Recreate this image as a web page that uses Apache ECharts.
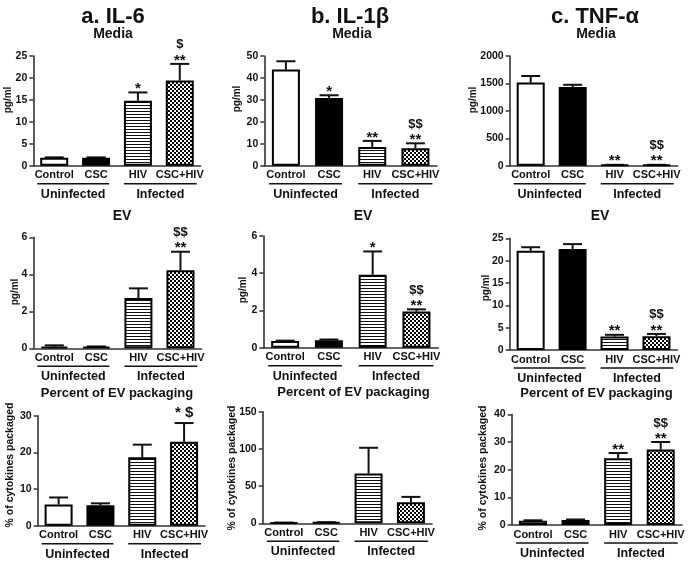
<!DOCTYPE html>
<html><head><meta charset="utf-8">
<script src="https://cdn.jsdelivr.net/npm/echarts@6/dist/echarts.min.js"></script>
<style>html,body{margin:0;padding:0;background:#fff}#c{width:688px;height:561px}</style>
</head><body><div id="c"></div>
<script>
// ---------------- data ----------------
const categories = ['Control', 'CSC', 'HIV', 'CSC+HIV'];
const groupLabels = ['Uninfected', 'Infected'];
const groupStarts = [0, 2];

const il6MediaValues = [1.8, 1.8, 14.8, 19.4];
const il6MediaErrors = [0.1, 0.1, 1.9, 3.8];
const il6MediaStars = ['', '', '*', '**'];
const il6MediaDollars = ['', '', '', '$'];
const il6MediaTicks = [0, 5, 10, 15, 20, 25];

const il1bMediaValues = [43.8, 30.9, 8.5, 8.0];
const il1bMediaErrors = [3.8, 1.2, 2.8, 2.2];
const il1bMediaStars = ['', '*', '**', '**'];
const il1bMediaDollars = ['', '', '', '$$'];
const il1bMediaTicks = [0, 10, 20, 30, 40, 50];

const tnfMediaValues = [1515, 1435, 12, 12];
const tnfMediaErrors = [120, 40, 4, 4];
const tnfMediaStars = ['', '', '**', '**'];
const tnfMediaDollars = ['', '', '', '$$'];
const tnfMediaTicks = [0, 500, 1000, 1500, 2000];

const il6EvValues = [0.1, 0.08, 2.72, 4.22];
const il6EvErrors = [0.06, 0.02, 0.52, 1.0];
const il6EvStars = ['', '', '', '**'];
const il6EvDollars = ['', '', '', '$$'];
const il6EvTicks = [0, 2, 4, 6];

const il1bEvValues = [0.36, 0.4, 3.92, 1.94];
const il1bEvErrors = [0.02, 0.04, 1.25, 0.12];
const il1bEvStars = ['', '', '*', '**'];
const il1bEvDollars = ['', '', '', '$$'];
const il1bEvTicks = [0, 2, 4, 6];

const tnfEvValues = [22.2, 22.6, 3.0, 3.1];
const tnfEvErrors = [0.8, 1.1, 0.4, 0.5];
const tnfEvStars = ['', '', '**', '**'];
const tnfEvDollars = ['', '', '', '$$'];
const tnfEvTicks = [0, 5, 10, 15, 20, 25];

const il6PctValues = [5.8, 5.6, 18.7, 22.9];
const il6PctErrors = [1.9, 0.5, 3.4, 5.1];
const il6PctStars = ['', '', '', '* $'];
const il6PctDollars = ['', '', '', ''];
const il6PctTicks = [0, 10, 20, 30];

const il1bPctValues = [0.8, 1.2, 67, 28.3];
const il1bPctErrors = [0.2, 0.3, 34.5, 7.2];
const il1bPctStars = ['', '', '', ''];
const il1bPctDollars = ['', '', '', ''];
const il1bPctTicks = [0, 50, 100, 150];

const tnfPctValues = [1.5, 1.8, 24.1, 27.3];
const tnfPctErrors = [0.2, 0.2, 1.9, 2.7];
const tnfPctStars = ['', '', '**', '**'];
const tnfPctDollars = ['', '', '', '$$'];
const tnfPctTicks = [0, 10, 20, 30, 40];

const panelTitles = ['a. IL-6', 'b. IL-1\u03B2', 'c. TNF-\u03B1'];
const rowTitles = ['Media', 'EV', 'Percent of EV packaging'];
const yNames = ['pg/ml', 'pg/ml', '% of cytokines packaged'];

// ---------------- build ----------------
const panels = [
  [il6MediaValues, il6MediaErrors, il6MediaStars, il6MediaDollars, il6MediaTicks],
  [il1bMediaValues, il1bMediaErrors, il1bMediaStars, il1bMediaDollars, il1bMediaTicks],
  [tnfMediaValues, tnfMediaErrors, tnfMediaStars, tnfMediaDollars, tnfMediaTicks],
  [il6EvValues, il6EvErrors, il6EvStars, il6EvDollars, il6EvTicks],
  [il1bEvValues, il1bEvErrors, il1bEvStars, il1bEvDollars, il1bEvTicks],
  [tnfEvValues, tnfEvErrors, tnfEvStars, tnfEvDollars, tnfEvTicks],
  [il6PctValues, il6PctErrors, il6PctStars, il6PctDollars, il6PctTicks],
  [il1bPctValues, il1bPctErrors, il1bPctStars, il1bPctDollars, il1bPctTicks],
  [tnfPctValues, tnfPctErrors, tnfPctStars, tnfPctDollars, tnfPctTicks]
].map(p => ({values: p[0], errors: p[1], stars: p[2], dollars: p[3], ticks: p[4]}));

// layout (pixels)
const grids = [
  {left: 33.3, top: 56, width: 167.4, height: 109.7},
  {left: 264.3, top: 56, width: 172.7, height: 109.7},
  {left: 509.7, top: 56, width: 168, height: 109.7},
  {left: 33.3, top: 237.3, width: 168.2, height: 111},
  {left: 263.3, top: 236, width: 175, height: 111.7},
  {left: 509.7, top: 238.3, width: 167.7, height: 111.7},
  {left: 37.7, top: 415.7, width: 167.3, height: 110},
  {left: 262.7, top: 411.7, width: 169.4, height: 111.6},
  {left: 511.7, top: 414.3, width: 170.3, height: 110.7}
];
const yNamePos = [[8.5, 100], [237, 99], [473, 100], [15.5, 292], [243, 290], [486, 288], [10, 465], [232, 468], [483, 468]];
const titlePos = [[113, 17], [350, 17], [595, 17]];
const rowTitlePos = [[[113, 34], [352, 34], [596, 34]], [[122, 216], [363, 216], [600, 216]], [[117, 393], [353.5, 392], [596.5, 393]]];

const FONT = '"Liberation Sans", Arial, Helvetica, sans-serif';

function makeStripe() {
  const c = document.createElement('canvas'); c.width = 4; c.height = 3;
  const g = c.getContext('2d');
  g.fillStyle = '#fff'; g.fillRect(0, 0, 4, 3);
  g.fillStyle = '#111'; g.fillRect(0, 0, 4, 1);
  return c;
}
function makeChecker() {
  const c = document.createElement('canvas'); c.width = 4; c.height = 4;
  const g = c.getContext('2d');
  g.fillStyle = '#000'; g.fillRect(0, 0, 4, 4);
  g.fillStyle = '#fff'; g.fillRect(0, 0, 2, 2); g.fillRect(2, 2, 2, 2);
  return c;
}
const fills = ['#ffffff', '#000000', {image: makeStripe(), repeat: 'repeat'}, {image: makeChecker(), repeat: 'repeat'}];

const option = {
  animation: false,
  grid: [], xAxis: [], yAxis: [], series: [], graphic: []
};

panels.forEach((p, k) => {
  const g = grids[k];
  option.grid.push({left: g.left, top: g.top, width: g.width, height: g.height, containLabel: false});
  option.xAxis.push({
    type: 'category', gridIndex: k, data: categories,
    axisLine: {lineStyle: {color: '#333', width: 1.6}},
    axisTick: {alignWithLabel: true, length: 3, lineStyle: {color: '#333', width: 1.5}},
    axisLabel: {interval: 0, margin: 4, color: '#111', fontSize: 11, fontWeight: 'bold', fontFamily: FONT},
    splitLine: {show: false}
  });
  const t = p.ticks;
  option.yAxis.push({
    type: 'value', gridIndex: k, min: t[0], max: t[t.length - 1], interval: t[1] - t[0],
    axisLine: {show: true, lineStyle: {color: '#333', width: 1.6}},
    axisTick: {show: true, length: 4, lineStyle: {color: '#333', width: 1.5}},
    axisLabel: {margin: 6, color: '#111', fontSize: 10.5, fontWeight: 'bold', fontFamily: FONT, formatter: v => String(v)},
    splitLine: {show: false}
  });
  option.series.push({
    type: 'bar', xAxisIndex: k, yAxisIndex: k, barWidth: 28, z: 3,
    silent: true,
    data: p.values.map((v, i) => ({value: v, itemStyle: {color: fills[i], borderColor: '#000', borderWidth: 2}}))
  });
  option.series.push({
    type: 'custom', xAxisIndex: k, yAxisIndex: k, z: 2, clip: false, silent: true,
    data: p.values.map((v, i) => [i, v, v + p.errors[i]]),
    renderItem: function (params, api) {
      const i = params.dataIndex;
      const p0 = api.coord([api.value(0), api.value(1)]);
      const p1 = api.coord([api.value(0), api.value(2)]);
      const half = 9.5;
      const ch = [
        {type: 'line', shape: {x1: p0[0], y1: p0[1], x2: p1[0], y2: p1[1]}, style: {stroke: '#111', lineWidth: 2}},
        {type: 'line', shape: {x1: p1[0] - half, y1: p1[1], x2: p1[0] + half, y2: p1[1]}, style: {stroke: '#111', lineWidth: 2}}
      ];
      const s = p.stars[i], d = p.dollars[i];
      if (s) {
        const yy = s.indexOf('$') >= 0 ? p1[1] - 3 : p1[1] + 4;
        ch.push({type: 'text', x: p1[0], y: yy, style: {text: s, font: 'bold 15px ' + FONT, fill: '#111', align: 'center', verticalAlign: 'bottom'}});
      }
      if (d) {
        ch.push({type: 'text', x: p1[0], y: p1[1] - 12.5, style: {text: d, font: 'bold 13px ' + FONT, fill: '#111', align: 'center', verticalAlign: 'bottom'}});
      }
      return {type: 'group', children: ch};
    }
  });
  option.series.push({
    type: 'custom', xAxisIndex: k, yAxisIndex: k, z: 2, clip: false, silent: true,
    data: groupStarts.map(s => [s, 0]),
    renderItem: function (params, api) {
      const i = params.dataIndex;
      const s = api.value(0);
      const a = api.coord([s, 0]);
      const b = api.coord([s + 1, 0]);
      const x1 = i === 0 ? a[0] - 17 : a[0] - 14;
      const x2 = i === 0 ? b[0] + 13 : b[0] + 17;
      const y = a[1];
      return {type: 'group', children: [
        {type: 'line', shape: {x1: x1, y1: y + 18, x2: x2, y2: y + 18}, style: {stroke: '#111', lineWidth: 1.5}},
        {type: 'text', x: (x1 + x2) / 2, y: y + 28.5, style: {text: groupLabels[i], font: 'bold 12.5px ' + FONT, fill: '#111', align: 'center', verticalAlign: 'middle'}}
      ]};
    }
  });
  const np = yNamePos[k];
  option.graphic.push({type: 'text', x: np[0], y: np[1], rotation: Math.PI / 2, silent: true,
    style: {text: yNames[Math.floor(k / 3)], font: 'bold ' + (k >= 6 ? 10.5 : 10) + 'px ' + FONT, fill: '#111', align: 'center', verticalAlign: 'middle'}});
  const rp = rowTitlePos[Math.floor(k / 3)][k % 3];
  option.graphic.push({type: 'text', x: rp[0], y: rp[1], silent: true,
    style: {text: rowTitles[Math.floor(k / 3)], font: 'bold ' + (k >= 6 ? 13 : 14) + 'px ' + FONT, fill: '#111', align: 'center', verticalAlign: 'middle'}});
});
panelTitles.forEach((t, j) => {
  option.graphic.push({type: 'text', x: titlePos[j][0], y: titlePos[j][1], silent: true,
    style: {text: t, font: 'bold 22px ' + FONT, fill: '#111', align: 'center', verticalAlign: 'middle'}});
});

const chart = echarts.init(document.getElementById('c'), null, {renderer: 'canvas'});
chart.setOption(option);
</script></body></html>
